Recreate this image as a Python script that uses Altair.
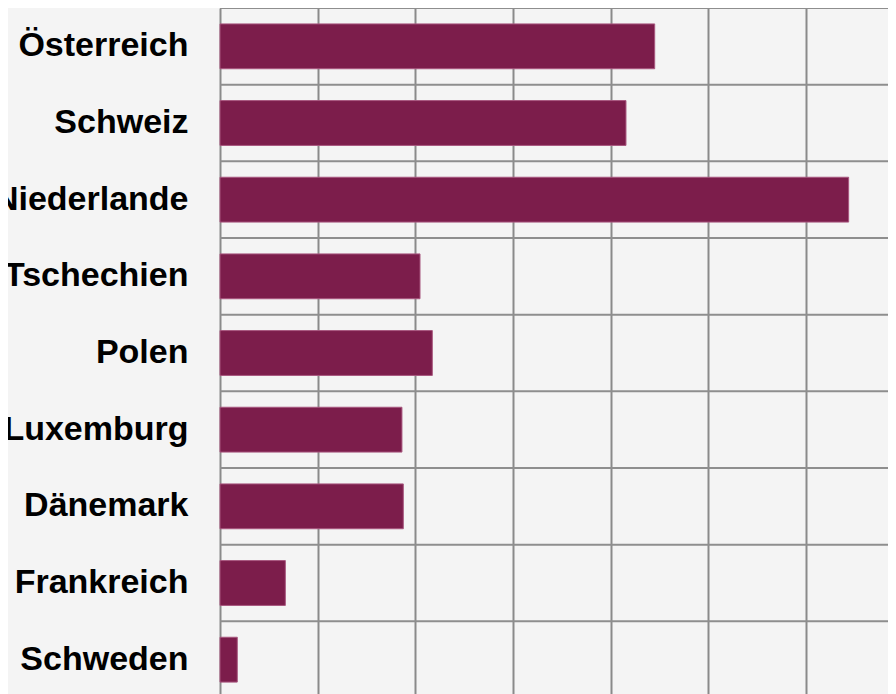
import altair as alt
import pandas as pd

countries = ["Österreich", "Schweiz", "Niederlande", "Tschechien", "Polen",
             "Luxemburg", "Dänemark", "Frankreich", "Schweden"]
values = [4.451, 4.157, 6.437, 2.048, 2.174, 1.863, 1.877, 0.669, 0.177]
grid_ticks = [0, 1, 2, 3, 4, 5, 6]

df = pd.DataFrame({"land": countries, "wert": values})

x_scale = alt.Scale(domain=[0, 6.84], nice=False, zero=True)
x_axis = alt.Axis(values=grid_ticks, labels=False, ticks=False, domain=False,
                  grid=True, gridColor="#8a8a8a", gridWidth=2, title=None)

rules = alt.Chart(df).mark_rule(color="#8e8e8e", strokeWidth=2).encode(
    y=alt.Y("land:N", sort=countries, bandPosition=0,
            scale=alt.Scale(paddingInner=0, paddingOuter=0), axis=None)
)

bars = alt.Chart(df).mark_bar(color="#7c1d4b", stroke="#a8577f", strokeWidth=1).encode(
    x=alt.X("wert:Q", scale=x_scale, axis=x_axis),
    y=alt.Y("land:N", sort=countries,
            scale=alt.Scale(paddingInner=0.415, paddingOuter=0.2075),
            axis=alt.Axis(title=None, grid=False, domain=False, ticks=False, tickSize=0,
                          labelFontSize=34, labelFont="Liberation Sans",
                          labelFontWeight="bold", labelColor="#000000",
                          labelPadding=32, labelLimit=400)),
)

chart = alt.layer(rules, bars).resolve_scale(y="independent").properties(
    width=668, height=690,
    autosize=alt.AutoSizeParams(type="none"),
    padding={"left": 212, "top": 0, "right": 0, "bottom": -4},
).configure(background="#f4f4f4").configure_view(stroke=None)

chart.save("out.html", embed_options={"renderer": "svg", "actions": False})
